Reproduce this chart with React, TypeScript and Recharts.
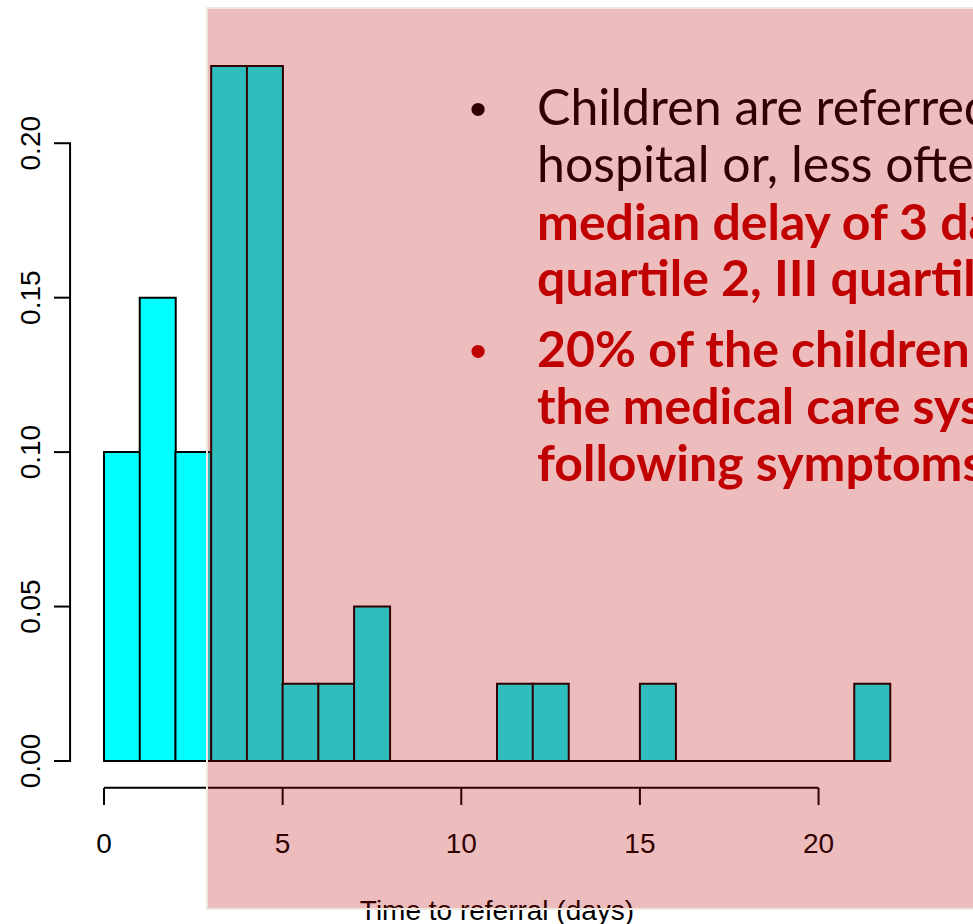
import React from 'react';
import { BarChart, Bar, XAxis, YAxis, ReferenceLine } from 'recharts';

// histogram of time to referral, one bin per day (bin start in days)
const binStart = [0, 1, 2, 3, 4, 5, 6, 7, 8, 9, 10, 11, 12, 13, 14, 15, 16, 17, 18, 19, 20, 21];
const density = [0.1, 0.15, 0.1, 0.225, 0.225, 0.025, 0.025, 0.05, 0, 0, 0,
  0.025, 0.025, 0, 0, 0.025, 0, 0, 0, 0, 0, 0.025];
const xTicks = [0, 5, 10, 15, 20];
const yTicks = [0, 0.05, 0.1, 0.15, 0.2];

const bulletDark = ['Children are referred to the', 'hospital or, less often, to a specialist, with a'];
const bulletDarkRed = ['median delay of 3 days (I', 'quartile 2, III quartile 5)'];
const bulletRed = ['20% of the children entered', 'the medical care system', 'following symptoms onset'];

const data = binStart.map((start, i) => ({ bin: `${start}-${start + 1}`, start, density: density[i] }));

const AXIS_FONT = '"Liberation Sans", Arial, sans-serif';
const SLIDE_FONT = 'Lato, "Open Sans", sans-serif';

const XTick = (props: any) => {
  const { x, y, payload } = props;
  return (
    <g>
      <line x1={x} y1={y + 27} x2={x} y2={y + 44} stroke="#000" strokeWidth={2} />
      <text x={x} y={y + 92} textAnchor="middle" fontSize={28} fontFamily={AXIS_FONT} fill="#000">
        {payload.value}
      </text>
    </g>
  );
};

const YTick = (props: any) => {
  const { x, y, payload } = props;
  return (
    <g>
      <line x1={x - 33} y1={y} x2={x - 50} y2={y} stroke="#000" strokeWidth={2} />
      <text transform={`translate(${x - 64},${y}) rotate(-90)`} textAnchor="middle" fontSize={28}
        fontFamily={AXIS_FONT} fill="#000">
        {Number(payload.value).toFixed(2)}
      </text>
    </g>
  );
};

export default function App() {
  return (
    <div style={{ position: 'absolute', left: 0, top: 0, width: 973, height: 924, overflow: 'hidden', background: '#fff' }}>
      <BarChart width={973} height={924} data={data} barCategoryGap={0} barGap={0}
        margin={{ top: 66, right: 83, left: 0, bottom: 0 }}>
        <XAxis xAxisId="cat" dataKey="bin" hide height={0} />
        <XAxis xAxisId="num" dataKey="start" type="number" domain={[0, 22]} allowDataOverflow ticks={xTicks} height={163}
          axisLine={false} tickLine={false} tickSize={0} tickMargin={0} tick={XTick}
          label={{ value: 'Time to referral (days)', position: 'insideBottom', offset: 4, fontSize: 28, fill: '#000', fontFamily: AXIS_FONT }} />
        <YAxis domain={[0, 0.225]} ticks={yTicks} width={104} axisLine={false} tickLine={false}
          tickSize={0} tickMargin={0} tick={YTick} />
        <Bar xAxisId="cat" dataKey="density" fill="#00FFFF" stroke="#000" strokeWidth={2} isAnimationActive={false} />
        {/* baseline under the empty bins */}
        <ReferenceLine xAxisId="num" ifOverflow="visible" segment={[{ x: 0, y: 0 }, { x: 22, y: 0 }]} stroke="#000" strokeWidth={2} />
        {/* detached R-style axis lines */}
        <ReferenceLine xAxisId="num" ifOverflow="visible" segment={[{ x: -0.95, y: 0 }, { x: -0.95, y: 0.2 }]} stroke="#000" strokeWidth={2} />
        <ReferenceLine xAxisId="num" ifOverflow="visible" segment={[{ x: 0, y: -0.0087 }, { x: 20, y: -0.0087 }]} stroke="#000" strokeWidth={2} />
      </BarChart>

      <div style={{ position: 'absolute', left: 206, top: 7, width: 800, height: 899,
        background: 'rgba(185,0,0,0.26)', border: '2px solid #EEE8DF' }} />

      <svg width={973} height={924} style={{ position: 'absolute', left: 0, top: 0 }}>
        <g fontFamily={SLIDE_FONT}>
          <text x={478} y={125} textAnchor="middle" fill="#300000" fontFamily={AXIS_FONT} fontSize={49}>•</text>
          {bulletDark.map((t, i) => (
            <text key={t} x={537} y={125 + i * 57} fill="#300000" fontSize={50}>{t}</text>
          ))}
          {bulletDarkRed.map((t, i) => (
            <text key={t} x={537} y={240 + i * 56} fill="#C00000" fontWeight={700} fontSize={50}>{t}</text>
          ))}
          <text x={478} y={367} textAnchor="middle" fill="#C00000" fontFamily={AXIS_FONT} fontSize={49}>•</text>
          {bulletRed.map((t, i) => (
            <text key={t} x={537} y={367 + i * 57} fill="#C00000" fontWeight={700} fontSize={50}>{t}</text>
          ))}
        </g>
      </svg>
    </div>
  );
}
